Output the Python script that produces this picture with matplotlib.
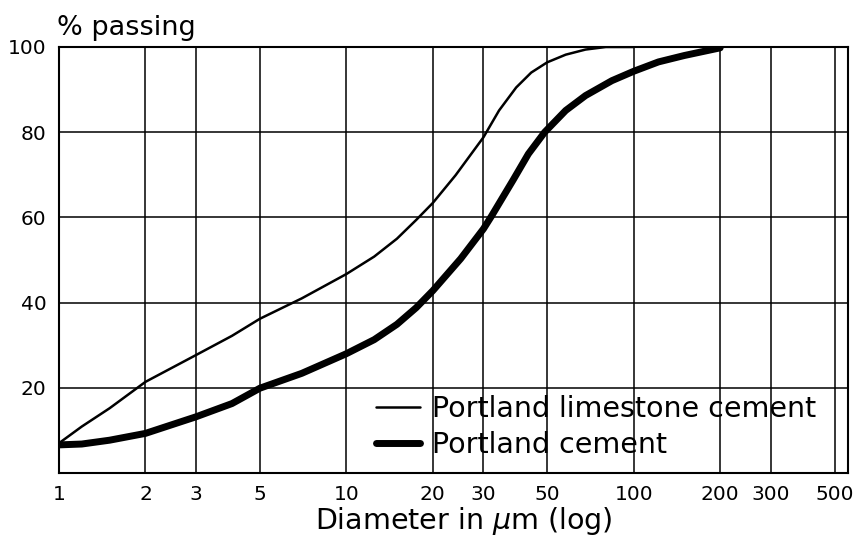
import matplotlib
matplotlib.use('Agg')
import matplotlib.pyplot as plt

# particle size (um) and % passing
d_limestone = [1, 1.2, 1.5, 2, 3, 4, 5, 7, 10, 12.5, 15, 17.5, 20, 24, 30, 34, 39, 44, 50, 58, 68, 80, 100]
limestone = [7.0, 10.9, 15.2, 21.4, 27.7, 32.2, 36.2, 41.0, 46.7, 50.8, 55.0, 59.4, 63.4, 69.9, 78.8, 85.1,
             90.5, 94.0, 96.4, 98.2, 99.4, 100, 100]

d_portland = [1, 1.2, 1.5, 2, 3, 4, 5, 7, 10, 12.5, 15, 17.5, 20, 25, 30, 32, 38, 43, 49, 58, 68, 84, 100,
              122, 150, 200]
portland = [6.6, 6.8, 7.7, 9.3, 13.2, 16.3, 19.9, 23.4, 28.0, 31.3, 34.9, 38.8, 42.8, 50.3, 57.3, 60.3,
            68.7, 74.9, 80.0, 85.1, 88.6, 92.1, 94.3, 96.5, 98.0, 99.8]

x_ticks = [1, 2, 3, 5, 10, 20, 30, 50, 100, 200, 300, 500]
y_ticks = [20, 40, 60, 80, 100]

fig = plt.figure(figsize=(8.55, 5.39), dpi=100)
ax = fig.add_axes([59 / 855, 1 - 473 / 539, 789 / 855, 426 / 539])

ax.plot(d_limestone, limestone, color='black', lw=1.8, label='Portland limestone cement',
        solid_capstyle='round', solid_joinstyle='round')
ax.plot(d_portland, portland, color='black', lw=5, label='Portland cement',
        solid_capstyle='round', solid_joinstyle='round')

ax.set_xscale('log')
ax.set_xlim(1, 557)
ax.set_ylim(0, 100)
ax.set_xticks(x_ticks)
ax.set_xticklabels([str(t) for t in x_ticks])
ax.minorticks_off()
ax.set_yticks(y_ticks)
ax.tick_params(length=0, labelsize=14.5, pad=9)
ax.grid(True, color='black', lw=1.1)
for s in ax.spines.values():
    s.set_linewidth(1.5)

fig.text(57 / 855, 1 - 35 / 539, '% passing', fontsize=19.5, va='baseline', ha='left')
fig.text(464 / 855, 1 - 529 / 539, r'Diameter in $\mu$m (log)', fontsize=20.5,
         va='baseline', ha='center')

ax.legend(loc='center left', bbox_to_anchor=(0.402, 0.108), frameon=False,
          fontsize=20.5, handlelength=1.55, handletextpad=0.42, labelspacing=0.27,
          borderpad=0, borderaxespad=0)

fig.savefig('out.png', dpi=100)
